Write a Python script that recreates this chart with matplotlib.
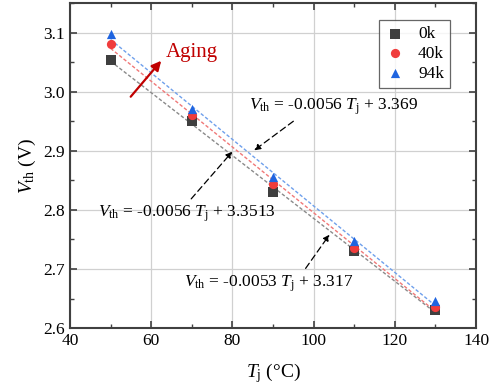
import numpy as np
import matplotlib
matplotlib.use("Agg")
import matplotlib.pyplot as plt
from matplotlib.ticker import MultipleLocator

plt.rcParams['font.family'] = 'Liberation Serif'
plt.rcParams['mathtext.fontset'] = 'custom'
plt.rcParams['mathtext.rm'] = 'Liberation Serif'
plt.rcParams['mathtext.it'] = 'Liberation Serif:italic'

# data
tj = [50, 70, 90, 110, 130]
vth_0k = [3.053, 2.950, 2.830, 2.730, 2.631]
vth_40k = [3.080, 2.960, 2.843, 2.735, 2.636]
vth_94k = [3.097, 2.970, 2.855, 2.748, 2.645]
labels = ['0k', '40k', '94k']

series = [vth_0k, vth_40k, vth_94k]
markers = ['s', 'o', '^']
colors = ['#3f3f3f', '#f03c3c', '#1f64e0']
line_colors = ['#8a8a8a', '#f07878', '#6fa0ec']

fig = plt.figure(figsize=(4.91, 3.91), dpi=100)
ax = fig.add_axes([0.1426, 0.161, 0.827, 0.831])

x = np.array(tj)
for y, m, c, lc, lab in zip(series, markers, colors, line_colors, labels):
    k, b = np.polyfit(x, y, 1)
    ax.plot(x, k * x + b, ls=(0, (2.5, 1.5)), color=lc, lw=1.0, zorder=2)
    ax.scatter(x, y, marker=m, color=c, s=44, zorder=3, label=lab, linewidths=0)

ax.set_xlim(40, 140)
ax.set_ylim(2.6, 3.15)
ax.xaxis.set_major_locator(MultipleLocator(20))
ax.xaxis.set_minor_locator(MultipleLocator(10))
ax.yaxis.set_major_locator(MultipleLocator(0.1))
ax.yaxis.set_minor_locator(MultipleLocator(0.05))
ax.grid(True, which='major', color='#d0d0d0', lw=0.9)
ax.tick_params(which='both', direction='in', top=True, right=True, labelsize=12.5,
               color='#404040')
ax.tick_params(which='major', length=5, width=1.2)
ax.tick_params(which='minor', length=3, width=1.0)
ax.tick_params(axis='x', which='both', top=True, labeltop=False)
for sp in ax.spines.values():
    sp.set_linewidth(1.5)
    sp.set_color('#404040')
ax.set_yticks([2.6, 2.7, 2.8, 2.9, 3.0, 3.1])
ax.set_yticklabels(['2.6', '2.7', '2.8', '2.9', '3.0', '3.1'])

ax.set_xlabel(r'$T_{\mathrm{j}}$ (°C)', fontsize=14, labelpad=9)
ax.set_ylabel(r'$V_{\mathrm{th}}$ (V)', fontsize=14, labelpad=4)

leg = ax.legend(loc='upper right', bbox_to_anchor=(0.936, 0.948), borderaxespad=0,
                fontsize=12.5, frameon=True, fancybox=False, edgecolor='#404040',
                handletextpad=0.7, borderpad=0.35, labelspacing=0.2, handlelength=1.2)
leg.get_frame().set_linewidth(0.9)

arrow = dict(arrowstyle='-|>', ls=(0, (5, 3)), color='black', lw=0.9, mutation_scale=9)
ax.annotate(r'$V_{\mathrm{th}}$ = -0.0056 $T_{\mathrm{j}}$ + 3.369', xy=(84.8, 2.898),
            xytext=(104.8, 2.975), fontsize=12.5, ha='center', va='center',
            arrowprops=dict(arrow, relpos=(0.3, 0.0)))
ax.annotate(r'$V_{\mathrm{th}}$ = -0.0056 $T_{\mathrm{j}}$ + 3.3513', xy=(80.4, 2.902),
            xytext=(68.8, 2.793), fontsize=12.5, ha='center', va='center',
            arrowprops=dict(arrow, relpos=(0.5, 1.0)))
ax.annotate(r'$V_{\mathrm{th}}$ = -0.0053 $T_{\mathrm{j}}$ + 3.317', xy=(104.3, 2.762),
            xytext=(88.8, 2.675), fontsize=12.5, ha='center', va='center',
            arrowprops=dict(arrow, relpos=(0.7, 1.0)))

ax.annotate('', xy=(62.9, 3.056), xytext=(54.5, 2.988),
            arrowprops=dict(arrowstyle='-|>', color='#c00000', lw=1.6, mutation_scale=14))
ax.text(63.6, 3.066, 'Aging', color='#c00000', fontsize=15, ha='left', va='center')

fig.savefig('out.png', dpi=100)
